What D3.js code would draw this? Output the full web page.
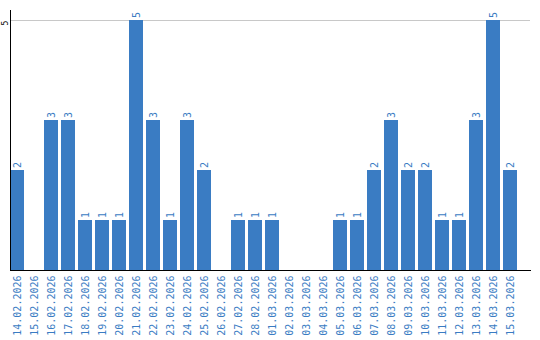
<!DOCTYPE html>
<html><head><meta charset="utf-8">
<script src="https://cdn.jsdelivr.net/npm/d3@7"></script>
<style>body{margin:0;background:#fff}svg{display:block}</style>
</head><body>
<svg id="c" width="540" height="340"></svg>
<script>
const dates = ["14.02.2026","15.02.2026","16.02.2026","17.02.2026","18.02.2026","19.02.2026","20.02.2026","21.02.2026","22.02.2026","23.02.2026","24.02.2026","25.02.2026","26.02.2026","27.02.2026","28.02.2026","01.03.2026","02.03.2026","03.03.2026","04.03.2026","05.03.2026","06.03.2026","07.03.2026","08.03.2026","09.03.2026","10.03.2026","11.03.2026","12.03.2026","13.03.2026","14.03.2026","15.03.2026"];
const counts = [2,0,3,3,1,1,1,5,3,1,3,2,0,1,1,1,0,0,0,1,1,2,3,2,2,1,1,3,5,2];
const yTicks = [5];

const svg = d3.select("#c");
const blue = "#3a7cc3";
const font = "'DejaVu Sans Mono', monospace";
const x = d3.scaleBand().domain(dates).range([10, 517]).paddingInner(3/17).paddingOuter(0);
const y = d3.scaleLinear().domain([0, 5.2]).range([270, 10]);

// gridlines
svg.append("g").selectAll("line").data(yTicks).join("line")
  .attr("x1", 10).attr("x2", 530).attr("y1", d => y(d) + 0.5).attr("y2", d => y(d) + 0.5)
  .attr("stroke", "#c8c8c8").attr("stroke-width", 1).attr("shape-rendering","crispEdges");

// bars
svg.append("g").selectAll("rect").data(dates).join("rect")
  .attr("x", d => x(d)).attr("width", x.bandwidth())
  .attr("y", (d,i) => y(counts[i])).attr("height", (d,i) => y(0) - y(counts[i]))
  .attr("fill", blue).attr("shape-rendering","crispEdges");

// value labels
svg.append("g").selectAll("text").data(dates.map((d,i)=>[d,counts[i]]).filter(d=>d[1]>0)).join("text")
  .attr("transform", d => `translate(${x(d[0]) + x.bandwidth()/2 + 4},${y(d[1]) - 2}) rotate(-90)`)
  .attr("font-family", font).attr("font-size", 10)
  .attr("fill", blue).text(d => d[1]);

// y axis
const ya = d3.axisLeft(y).tickValues(yTicks).tickFormat(d3.format("d")).tickSize(0).tickPadding(0);
const yg = svg.append("g").attr("transform", "translate(10.5,0)").call(ya);
yg.select(".domain").attr("stroke", "#000").attr("d", `M0,${y(5.2)}V${y(0)}`);
yg.selectAll(".tick text").attr("font-family", font).attr("font-size", 8)
  .attr("fill", "#000").attr("text-anchor", "middle").attr("dy", 0).attr("x", 0)
  .attr("transform", "translate(-2.5,2.5) rotate(-90)");

// x axis
const xa = d3.axisBottom(x).tickSize(0).tickPadding(0);
const xg = svg.append("g").attr("transform", "translate(0,270.5)").call(xa);
xg.select(".domain").attr("stroke", "#000").attr("d", "M10,0H531");
xg.selectAll(".tick text").attr("font-family", font).attr("font-size", 10)
  .attr("fill", blue).attr("text-anchor", "end").attr("dy", 0).attr("y", 0)
  .attr("transform", "translate(4,5) rotate(-90)");
</script>
</body></html>
